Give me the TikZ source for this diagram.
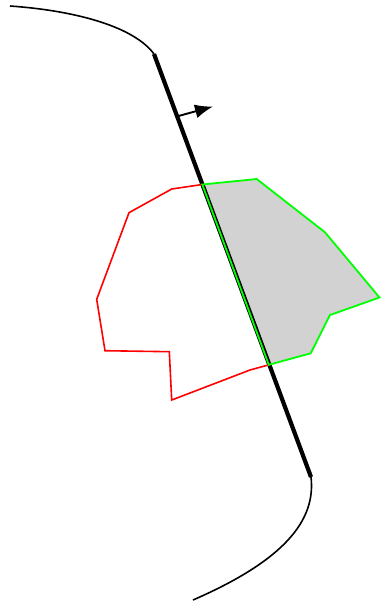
\documentclass[tikz,border=0pt]{standalone}
\usetikzlibrary{arrows.meta}
\begin{document}
\begin{tikzpicture}[x=1pt,y=-1pt,
  curve/.style={line width=1.6pt,black},
  cutline/.style={line width=4.2pt,black},
  redpoly/.style={line width=1.6pt,red},
  greenpoly/.style={line width=1.8pt,green,line join=miter},
  normalarrow/.style={line width=1.9pt,-{Latex[length=18pt,width=14pt]}}]
\useasboundingbox (0,0) rectangle (381,606);
\coordinate (A) at (154,54);
\coordinate (B) at (311,477);
\coordinate (P) at (202.3,184.5);
\coordinate (Q) at (268.8,364.8);
% grey region
\fill[gray!35] (P) -- (256.7,179) -- (325,232.3) -- (379.5,297.5) -- (330,315) -- (310.7,353.3) -- (Q) -- cycle;
% curves
\draw[curve] (10,6) .. controls (80,11) and (135,28) .. (A);
\draw[curve] (B) .. controls (316,520) and (285,560) .. (193,600);
% cut line
\draw[cutline] (A) -- (B);
% normal arrow
\coordinate (N0) at (178.5,116);
\coordinate (N1) at (213,106.5);
\draw[normalarrow] (N0) -- (N1);
% red polygon
\draw[redpoly] (P) -- (171.7,189) -- (129,212.7) -- (96.7,299.3) -- (105,350.7) -- (169.3,351.7) -- (171.7,400) -- (250,370) -- (Q);
% green polygon
\draw[greenpoly] (P) -- (256.7,179) -- (325,232.3) -- (379.5,297.5) -- (330,315) -- (310.7,353.3) -- (Q) -- cycle;
\end{tikzpicture}
\end{document}
